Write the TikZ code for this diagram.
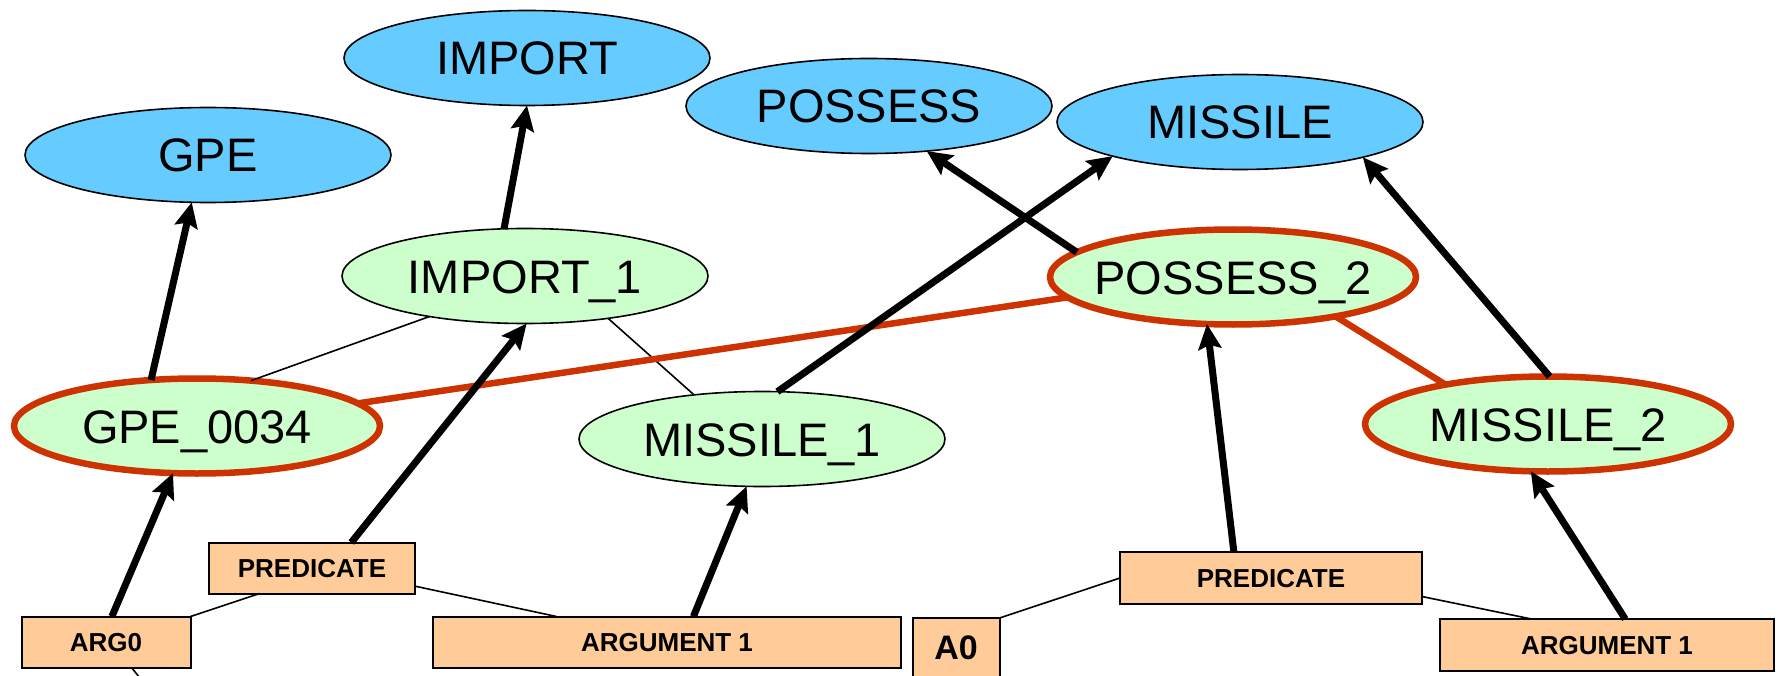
\documentclass[tikz,border=0pt]{standalone}
\usepackage{fontspec}
\setmainfont{Liberation Sans}
\usetikzlibrary{shapes.geometric,arrows.meta}
\definecolor{conceptblue}{HTML}{66CCFF}
\definecolor{instgreen}{HTML}{CCFFCC}
\definecolor{boxorange}{HTML}{FFCC99}
\definecolor{redc}{HTML}{CC3300}
\tikzset{
  concept/.style={ellipse, draw=black, line width=1.6pt, fill=conceptblue,
    minimum width=366pt, minimum height=95pt, inner sep=0pt, outer sep=0pt,
    font=\fontsize{47}{50}\selectfont, text height=34pt, text depth=0pt},
  inst/.style={concept, fill=instgreen},
  redinst/.style={inst, draw=redc, line width=6.5pt, inner xsep=-16pt},
  lbl/.style={rectangle, draw=black, line width=2pt, fill=boxorange,
    inner sep=0pt, outer sep=0pt,
    font=\fontsize{26}{28}\selectfont\bfseries, text height=18.6pt, text depth=0pt},
  arr/.style={line width=7pt, -{Stealth[length=25pt,width=23pt,inset=4pt]}},
  tie/.style={line width=1.6pt},
  redlink/.style={draw=redc, line width=6.5pt},
}
\begin{document}
\begin{tikzpicture}[x=1pt,y=-1pt]
\useasboundingbox (0,0) rectangle (1784,676);
\clip (0,0) rectangle (1784,676);
% concepts
\node[concept] (gpe) at (208,155) {GPE};
\node[concept] (import) at (527,58) {IMPORT};
\node[concept] (possess) at (869,106) {POSSESS};
\node[concept] (missile) at (1240,122) {MISSILE};
% instances
\node[inst] (import1) at (525,276) {IMPORT\_1};
\node[redinst] (gpe0034) at (197,426) {GPE\_0034};
\node[inst] (missile1) at (762,439) {MISSILE\_1};
\node[redinst] (possess2) at (1233,277) {POSSESS\_2};
\node[redinst] (missile2) at (1548,424) {MISSILE\_2};
% boxes
\node[lbl, minimum width=206pt, minimum height=51pt] (pred1) at (312,568) {PREDICATE};
\node[lbl, minimum width=169pt, minimum height=51pt] (arg0) at (106,642) {ARG0};
\node[lbl, minimum width=468pt, minimum height=51pt] (arg1a) at (667,642) {ARGUMENT 1};
\node[lbl, minimum width=302pt, minimum height=52pt] (pred2) at (1271,578) {PREDICATE};
\node[lbl, minimum width=87pt, minimum height=100pt, anchor=north,
  font=\fontsize{34}{36}\selectfont\bfseries, text height=24.3pt, text depth=42pt] (a0) at (956,618) {A0};
\node[lbl, minimum width=334pt, minimum height=52pt] (arg1b) at (1607,645) {ARGUMENT 1};
\coordinate (stub) at (172,718);
% thin ties
\draw[tie] (import1.-157) -- (gpe0034.40);
\draw[tie] (import1.-27) -- (missile1.147);
\draw[tie] (pred1.-154) -- (arg0.north east);
\draw[tie] (pred1.-10) -- (arg1a.167.5);
\draw[tie] (arg0.-45) -- (stub);
\draw[tie] (pred2.west) -- (a0.north east);
\draw[tie] (pred2.-7.5) -- (arg1b.161);
% red links
\draw[redlink] (gpe0034.8) -- (possess2.187);
\draw[redlink] (possess2.-21) -- (missile2.159);
% instance-of arrows
\draw[arr] (gpe0034.135) -- (gpe.-109);
\draw[arr] (import1.114) -- (import.-90);
\draw[arr] (possess2.171) -- (possess.-38);
\draw[arr] (missile1.72) -- (missile.195);
\draw[arr] (missile2.88) -- (missile.-16);
% role arrows
\draw[arr] (arg0.77) -- (gpe0034.-117);
\draw[arr] (pred1.33) -- (import1.-88);
\draw[arr] (arg1a.44) -- (missile1.-108);
\draw[arr] (pred2.145) -- (possess2.-119);
\draw[arr] (arg1b.55) -- (missile2.-110);
\end{tikzpicture}
\end{document}
